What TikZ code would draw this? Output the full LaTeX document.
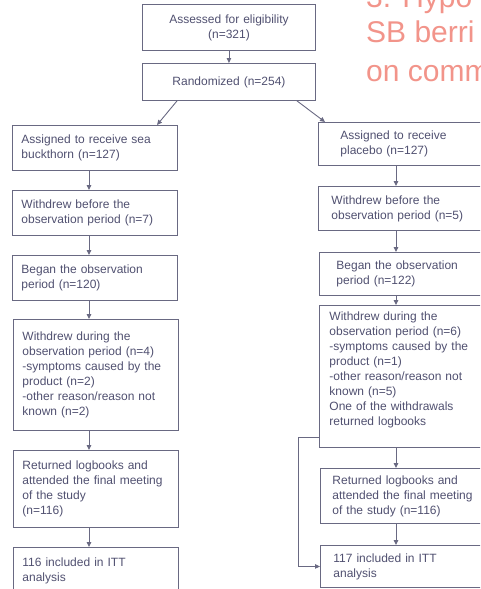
\documentclass[tikz,border=0pt]{standalone}
\usepackage{fontspec}
\setmainfont{Liberation Sans}
\usetikzlibrary{arrows.meta}
\definecolor{boxline}{RGB}{105,105,130}
\definecolor{boxtext}{RGB}{80,80,112}
\definecolor{salmon}{RGB}{242,148,138}

\begin{document}
\begin{tikzpicture}[x=1pt, y=-1pt,
	main/.style={
	rectangle, anchor=north west, draw=boxline, line width=0.9pt,
	text=boxtext, font=\fontsize{12}{15}\selectfont,
	align=left, inner ysep=0pt},
	arr/.style={-{Triangle[length=5pt,width=4.5pt]}, draw=boxline, line width=0.9pt},
	title/.style={anchor=base west, inner sep=0pt, text=salmon,
	font=\fontsize{30}{36}\selectfont}]
	\useasboundingbox (0,0) rectangle (480,589);
	\clip (0,0) rectangle (480,589);
	\node[title] (t0) at (366,7) {3. Hypo};
	\node[title] (t1) at (366,42) {SB berri};
	\node[title] (t2) at (366,81) {on comm};
	% top
	\node[main, align=center, text width=163pt, inner xsep=5pt, minimum height=46pt] (0) at (142,4) {Assessed for eligibility\\(n=321)};
	\node[main, align=center, text width=163pt, inner xsep=5pt, minimum height=37pt] (1) at (142,63) {Randomized (n=254)};
	% sea buckthorn
	\node[main, text width=147pt, inner xsep=9pt, minimum height=45pt] (2) at (12,125) {Assigned to receive sea\\buckthorn (n=127)};
	\node[main, text width=147pt, inner xsep=9pt, minimum height=45pt] (3) at (12,190) {Withdrew before the\\observation period (n=7)};
	\node[main, text width=147pt, inner xsep=9pt, minimum height=45pt] (4) at (12,255) {Began the observation\\period (n=120)};
	\node[main, text width=147pt, inner xsep=9pt, minimum height=111pt] (5) at (13,319) {Withdrew during the\\observation period (n=4)\\-symptoms caused by the\\product (n=2)\\-other reason/reason not\\known (n=2)};
	\node[main, text width=147pt, inner xsep=9pt, minimum height=77pt] (6) at (13,450) {Returned logbooks and\\attended the final meeting\\of the study\\(n=116)};
	\node[main, text width=147pt, inner xsep=9pt, minimum height=46pt] (7) at (13,547) {116 included in ITT\\analysis};
	% placebo
	\node[main, text width=133pt, inner xsep=22pt, minimum height=43pt] (8) at (318,122) {Assigned to receive\\placebo (n=127)};
	\node[main, text width=151pt, inner xsep=13pt, minimum height=44pt] (9) at (318,186) {Withdrew before the\\observation period (n=5)};
	\node[main, text width=143pt, inner xsep=17pt, minimum height=43pt] (10) at (319,252) {Began the observation\\period (n=122)};
	\node[main, text width=157pt, inner xsep=10pt, minimum height=142pt] (11) at (319,305) {Withdrew during the\\observation period (n=6)\\-symptoms caused by the\\product (n=1)\\-other reason/reason not\\known (n=5)\\One of the withdrawals\\returned logbooks\\ \mbox{}};
	\node[main, text width=153pt, inner xsep=12pt, minimum height=55pt] (12) at (320,468) {Returned logbooks and\\attended the final meeting\\of the study (n=116)};
	\node[main, text width=151pt, inner xsep=13pt, minimum height=42pt] (13) at (320,545) {117 included in ITT\\analysis};
	\coordinate (lx) at (89,0);
	\coordinate (rx) at (396,0);
	\draw[arr] (0) -- (1);
	\draw[arr] ([xshift=35pt]1.south west) -- ([xshift=145pt]2.north west);
	\draw[arr] ([xshift=155pt]1.south west) -- ([xshift=7pt]8.north west);
	\foreach \a/\b in {2/3,3/4,4/5,5/6,6/7}
		\draw[arr] (\a.south -| lx) -- (\b.north -| lx);
	\foreach \a/\b in {8/9,9/10,10/11,11/12,12/13}
		\draw[arr] (\a.south -| rx) -- (\b.north -| rx);
	\draw[arr] ([yshift=10pt]11.south west) -- ++(-21,0) |- (13.west);
\end{tikzpicture}
\end{document}
